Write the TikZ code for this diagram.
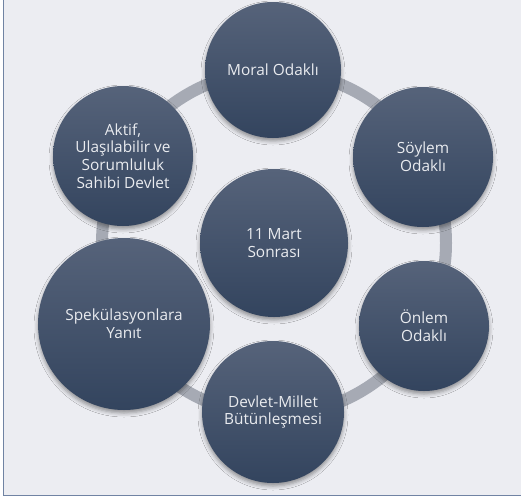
\documentclass[tikz,border=0pt]{standalone}
\usepackage{fontspec}
\setmainfont{Open Sans}
\usepackage{xcolor}
\usepackage{tikz}
\usetikzlibrary{shadows.blur}

\definecolor{paneback}{HTML}{ECEDF2}
\definecolor{paneline}{HTML}{7083A3}
\definecolor{ringgray}{HTML}{A6AAB4}
\definecolor{bubbletop}{HTML}{56637A}
\definecolor{bubblebot}{HTML}{33445E}
\definecolor{bubbletext}{HTML}{E9EBEF}

\begin{document}
\begin{tikzpicture}[x=1pt,y=1pt,
    bubble/.style={circle,inner sep=0pt,align=center,
        font=\fontsize{15.4}{17.7}\selectfont,text=bubbletext,
        top color=bubbletop,bottom color=bubblebot,
        blur shadow={shadow xshift=0pt,shadow yshift=-3pt,
            shadow blur radius=4pt,shadow opacity=40}},
    ringband/.style={draw=ringgray,line width=12pt}]
    \useasboundingbox (0,0) rectangle (521,-498);
    % panel
    \fill [paneback] (3.5,0) rectangle (521,-495.5);
    \draw [paneline,line width=1.5pt] (3.5,0) -- (3.5,-495.5) -- (521,-495.5);
    % ring behind the circles
    \coordinate (hub) at (274,-243);
    \draw [ringband] (hub) circle (172);
    % circles
    \node [bubble,minimum size=148] (sonra) at (hub) {11 Mart\\Sonras\i};
    \node [bubble,minimum size=136] (moral) at (273,-70) {Moral Odakl\i};
    \node [bubble,minimum size=140] (soylem) at (423,-157) {S\"oylem\\Odakl\i};
    \node [bubble,minimum size=130] (onlem) at (424,-326) {\"Onlem\\Odakl\i};
    \node [bubble,minimum size=142] (devlet) at (273,-412) {Devlet-Millet\\B\"ut\"unle\c{s}mesi};
    \node [bubble,minimum size=172] (spek) at (124,-324) {Spek\"ulasyonlara\\Yan\i t};
    \node [bubble,minimum size=140] (aktif) at (123,-156) {Aktif,\\Ula\c{s}\i labilir ve\\Sorumluluk\\Sahibi Devlet};
\end{tikzpicture}
\end{document}
